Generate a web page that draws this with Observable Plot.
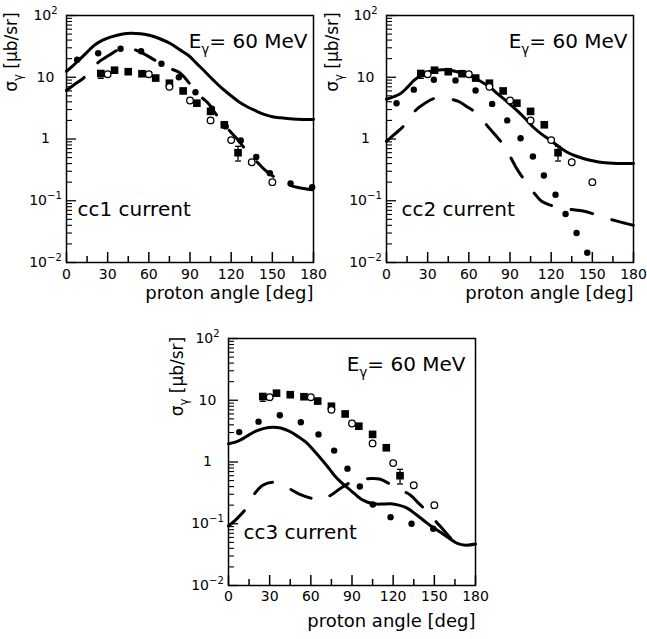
<!DOCTYPE html>
<html><head><meta charset="utf-8">
<script src="https://cdn.jsdelivr.net/npm/d3@7"></script>
<script src="https://cdn.jsdelivr.net/npm/@observablehq/plot@0.6"></script>
<style>
body{margin:0;background:#fff;}
#wrap{position:relative;width:647px;height:639px;background:#fff;overflow:hidden;}
#wrap > svg{position:absolute;}
</style></head><body><div id="wrap"></div>
<script>
// ---- axis ticks / labels ----
const xTickMajor = [0, 30, 60, 90, 120, 150, 180];
const xTickMinor = [15, 45, 75, 105, 135, 165];
const yTickMajor = [0.01, 0.1, 1, 10, 100];
const yTickLabels = ["10^\u22122", "10^\u22121", "1", "10", "10^2"];
const yMinorMult = [2, 3, 4, 5, 6, 7, 8, 9];
const energyLabel = "E\u03b3= 60 MeV";
const xLabel = "proton angle [deg]";
const yLabel = "\u03c3\u03b3 [\u03bcb/sr]";
const panelNames = ["cc1 current", "cc2 current", "cc3 current"];

// ---- experimental data (same in every panel) ----
const sqAngle = [25, 35, 45, 55, 65, 75, 85, 95, 105, 115, 125];
const sqValue = [11.5, 13, 12.3, 11.4, 9.7, 8.0, 6.0, 3.8, 2.8, 1.7, 0.6];
const errAngle = [25, 125];
const errLow = [9.6, 0.44];
const errHigh = [12.8, 0.76];
const circAngle = [30, 60, 75, 90, 105, 120, 135, 150];
const circValue = [11.2, 11.2, 7.0, 4.2, 2.0, 0.96, 0.42, 0.2];

// ---- cc1 ----
const cc1SolidA = [0,5,10,15,20,26,32,40,47,54,61,68,76,83,89,95,101,107,113,119.5,125,132,138,144,150,156,165,172,180];
const cc1SolidV = [12.5,15.6,19.9,25.5,32.5,39.5,44.6,49.8,51.7,50.5,47.4,42,34.8,27.5,22.5,16.6,12.3,9.0,6.7,5.1,4.1,3.3,2.85,2.5,2.3,2.2,2.1,2.07,2.07];
const cc1DashA = [0,6,12.6,18,24.3,32,39.4,46,53.9,61,68,75,82,88,94,99,103.7,108.5,113.5,119,124.4,129,134.1,139.5,145,150.5,156,162,168,174,180];
const cc1DashV = [6.1,7.7,9.8,13.5,18.2,23.5,28.9,29.5,25.5,21,16.9,14,12,8.8,5.9,4.6,3.7,2.6,1.87,1.35,1.0,0.74,0.54,0.41,0.31,0.25,0.2,0.18,0.165,0.156,0.15];
const cc1DotA = [7.8,23.1,39.4,54.4,69.2,81.9,94,106,116,127,138.3,148.2,163.3,179];
const cc1DotV = [19.2,24.5,28.9,26.4,16.5,10.0,5.7,3.1,1.6,0.95,0.51,0.28,0.19,0.166];

// ---- cc2 ----
const cc2SolidA = [0,5,10,15,20,25,30,35,42,50,56,62,68.5,75,81,88,95,101,107,113,119.5,125,131.7,138,144,150,156,165,172,180];
const cc2SolidV = [4.4,4.8,5.4,6.8,8.9,10.7,12.1,12.9,13.2,12.5,11.4,10.2,8.6,7.0,5.4,4.0,2.9,2.15,1.55,1.2,0.95,0.77,0.61,0.53,0.48,0.445,0.42,0.405,0.40,0.40];
const cc2DashA = [0,6,12.2,21.1,28,35.7,42,52,59,65.6,75.3,81,86,94,98,102.5,108,113,120,126.8,135,143.3,150,158.4,166,174.2,180];
const cc2DashV = [0.92,1.2,1.6,2.9,3.8,4.6,4.6,4.1,3.3,2.6,1.46,1.05,0.76,0.36,0.26,0.19,0.13,0.098,0.084,0.076,0.072,0.068,0.062,0.054,0.048,0.043,0.04];
const cc2DotA = [7.3,19.9,34.5,50.3,64.9,77,88,97.7,106.7,114.7,123.2,130.5,138.5,146.3];
const cc2DotV = [3.8,6.3,9.1,8.9,6.1,3.7,2.0,1.03,0.52,0.256,0.125,0.061,0.030,0.0144];

// ---- cc3 ----
const cc3SolidA = [0,5,10.2,15,19.9,26,32.1,38,44.2,50,56.4,62,68.5,73,78.2,84,89.2,96.2,101,105.9,112,118,124,130.2,136,142.3,148,154.5,160,166.7,173,180];
const cc3SolidV = [1.97,2.1,2.37,2.75,3.15,3.5,3.66,3.55,3.15,2.65,2.1,1.55,1.06,0.8,0.57,0.43,0.345,0.254,0.225,0.21,0.208,0.21,0.2,0.179,0.145,0.113,0.09,0.073,0.06,0.048,0.045,0.047];
const cc3DashA = [0,6,12.2,18.7,25,32.1,38,45.4,52,60,66,74.6,82,89.2,96,104,110,119.3,126,132.7,139,145.3,151,157,162,166.7];
const cc3DashV = [0.092,0.12,0.17,0.3,0.42,0.47,0.44,0.36,0.3,0.26,0.24,0.29,0.38,0.47,0.52,0.54,0.53,0.42,0.35,0.29,0.21,0.154,0.11,0.078,0.058,0.048];
const cc3DotA = [7.8,21.9,37.4,52.7,65.6,77,86.7,95.7,105.2,118.1,133.4,149.2];
const cc3DotV = [3.05,4.5,5.7,4.4,2.8,1.53,0.78,0.40,0.205,0.128,0.1,0.083];

// ---- build tables ----
const zip = (A, V) => A.map((a, i) => ({a, v: V[i]}));
const squares = zip(sqAngle, sqValue);
const circles = zip(circAngle, circValue);
const errs = errAngle.map((a, i) => ({a, lo: errLow[i], hi: errHigh[i]}));
const caps = errs.flatMap(d => [{a: d.a, v: d.lo}, {a: d.a, v: d.hi}]);
const yMinor = yTickMajor.slice(0, -1).flatMap(m => yMinorMult.map(k => m * k));
const capSymbol = {draw(ctx, size) { const r = Math.sqrt(size / Math.PI); ctx.moveTo(-r, 0); ctx.lineTo(r, 0); }};

const FONT = "DejaVu Sans";
const PW = 247; // plot frame size in px (used only for tick insets)

function makePanel(cfg) {
  const h = cfg.height;
  return Plot.plot({
    width: 334, height: h,
    marginLeft: 66, marginRight: 21, marginTop: 15, marginBottom: h - 15 - PW,
    style: {fontFamily: FONT, fontSize: "14px", color: "black", background: "transparent"},
    x: {domain: [0, 180], axis: null, label: null},
    y: {type: "log", domain: [0.01, 100], axis: null, label: null},
    marks: [
      Plot.tickX(xTickMajor, {x: d => d, insetTop: PW - 10, stroke: "black", strokeWidth: 1.5}),
      Plot.tickX(xTickMinor, {x: d => d, insetTop: PW - 6, stroke: "black", strokeWidth: 1.5}),
      Plot.tickY(yTickMajor, {y: d => d, insetRight: PW - 10, stroke: "black", strokeWidth: 1.3}),
      Plot.tickY(yMinor, {y: d => d, insetRight: PW - 6, stroke: "black", strokeWidth: 1.1}),
      Plot.axisX({ticks: xTickMajor, tickSize: 0, tickPadding: cfg.xPad, fontSize: 14, label: null, tickFormat: d => String(d)}),
      Plot.axisY({ticks: yTickMajor, tickSize: 0, tickPadding: 0, dx: -21, textAnchor: "middle", fontSize: 14, label: null,
        tickFormat: d => yTickLabels[yTickMajor.indexOf(d)]}),
      Plot.line(zip(cfg.solidA, cfg.solidV), {x: "a", y: "v", curve: "catmull-rom", stroke: "black", strokeWidth: 3}),
      Plot.line(zip(cfg.dashA, cfg.dashV), {x: "a", y: "v", curve: "catmull-rom", stroke: "black", strokeWidth: 3, strokeDasharray: "22,20"}),
      Plot.dot(zip(cfg.dotA, cfg.dotV), {x: "a", y: "v", r: 3.2, fill: "black", stroke: "none"}),
      Plot.ruleX(errs, {x: "a", y1: "lo", y2: "hi", stroke: "black", strokeWidth: 1.3}),
      Plot.dot(caps, {x: "a", y: "v", symbol: capSymbol, r: 3, stroke: "black", fill: "none", strokeWidth: 1.3}),
      Plot.dot(squares, {x: "a", y: "v", symbol: "square", r: 4.3, fill: "black", stroke: "none"}),
      Plot.dot(circles, {x: "a", y: "v", r: 3.3, fill: "white", stroke: "black", strokeWidth: 1.3}),
      Plot.frame({stroke: "black", strokeWidth: 1.5}),
      Plot.text([energyLabel], {frameAnchor: "top-right", dx: cfg.eDx, dy: 26, textAnchor: "end", lineAnchor: "middle", fontSize: 20, fill: "black"}),
      Plot.text([cfg.name], {frameAnchor: "top-left", dx: cfg.nameDx, dy: 194, textAnchor: "start", lineAnchor: "middle", fontSize: 20, fill: "black"}),
      Plot.text([xLabel], {frameAnchor: "bottom-right", dy: cfg.xLabDy, textAnchor: "end", lineAnchor: "middle", fontSize: 18, fill: "black"}),
      Plot.text([yLabel], {frameAnchor: "top-left", rotate: -90, dx: cfg.yLabDx, dy: cfg.yLabDy, textAnchor: "middle", lineAnchor: "middle", fontSize: 17, fill: "black"})
    ]
  });
}

function fixText(svg) {
  d3.select(svg).selectAll("text").each(function() {
    const t = this.textContent;
    const fs = parseFloat(getComputedStyle(this).fontSize) || 14;
    if (t.includes("^")) {
      const [b, e] = t.split("^");
      const sel = d3.select(this); sel.text("");
      sel.append("tspan").text(b);
      sel.append("tspan").attr("dy", -0.45 * fs).attr("font-size", 0.72 * fs).text(e);
    } else if (t.includes("\u03b3")) {
      const i = t.indexOf("\u03b3");
      const sel = d3.select(this); sel.text("");
      sel.append("tspan").text(t.slice(0, i));
      sel.append("tspan").attr("dy", 0.28 * fs).attr("font-size", 0.68 * fs).text("\u03b3");
      sel.append("tspan").attr("dy", -0.28 * fs).text(t.slice(i + 1));
    }
  });
}

const panels = [
  {name: panelNames[0], left: 0, top: 0, height: 305, xPad: 7, xLabDy: 31, eDx: -6, nameDx: 11, yLabDx: -54.5, yLabDy: 36.5,
   solidA: cc1SolidA, solidV: cc1SolidV, dashA: cc1DashA, dashV: cc1DashV, dotA: cc1DotA, dotV: cc1DotV},
  {name: panelNames[1], left: 320, top: 0, height: 305, xPad: 7, xLabDy: 31, eDx: -6, nameDx: 15, yLabDx: -53.5, yLabDy: 36.5,
   solidA: cc2SolidA, solidV: cc2SolidV, dashA: cc2DashA, dashV: cc2DashV, dotA: cc2DotA, dotV: cc2DotV},
  {name: panelNames[2], left: 162, top: 323, height: 316, xPad: 6, xLabDy: 36, eDx: -10, nameDx: 15, yLabDx: -50.5, yLabDy: 38,
   solidA: cc3SolidA, solidV: cc3SolidV, dashA: cc3DashA, dashV: cc3DashV, dotA: cc3DotA, dotV: cc3DotV}
];

const wrap = document.getElementById("wrap");
for (const p of panels) {
  const svg = makePanel(p);
  svg.style.left = p.left + "px";
  svg.style.top = p.top + "px";
  wrap.appendChild(svg);
  fixText(svg);
}
</script></body></html>
